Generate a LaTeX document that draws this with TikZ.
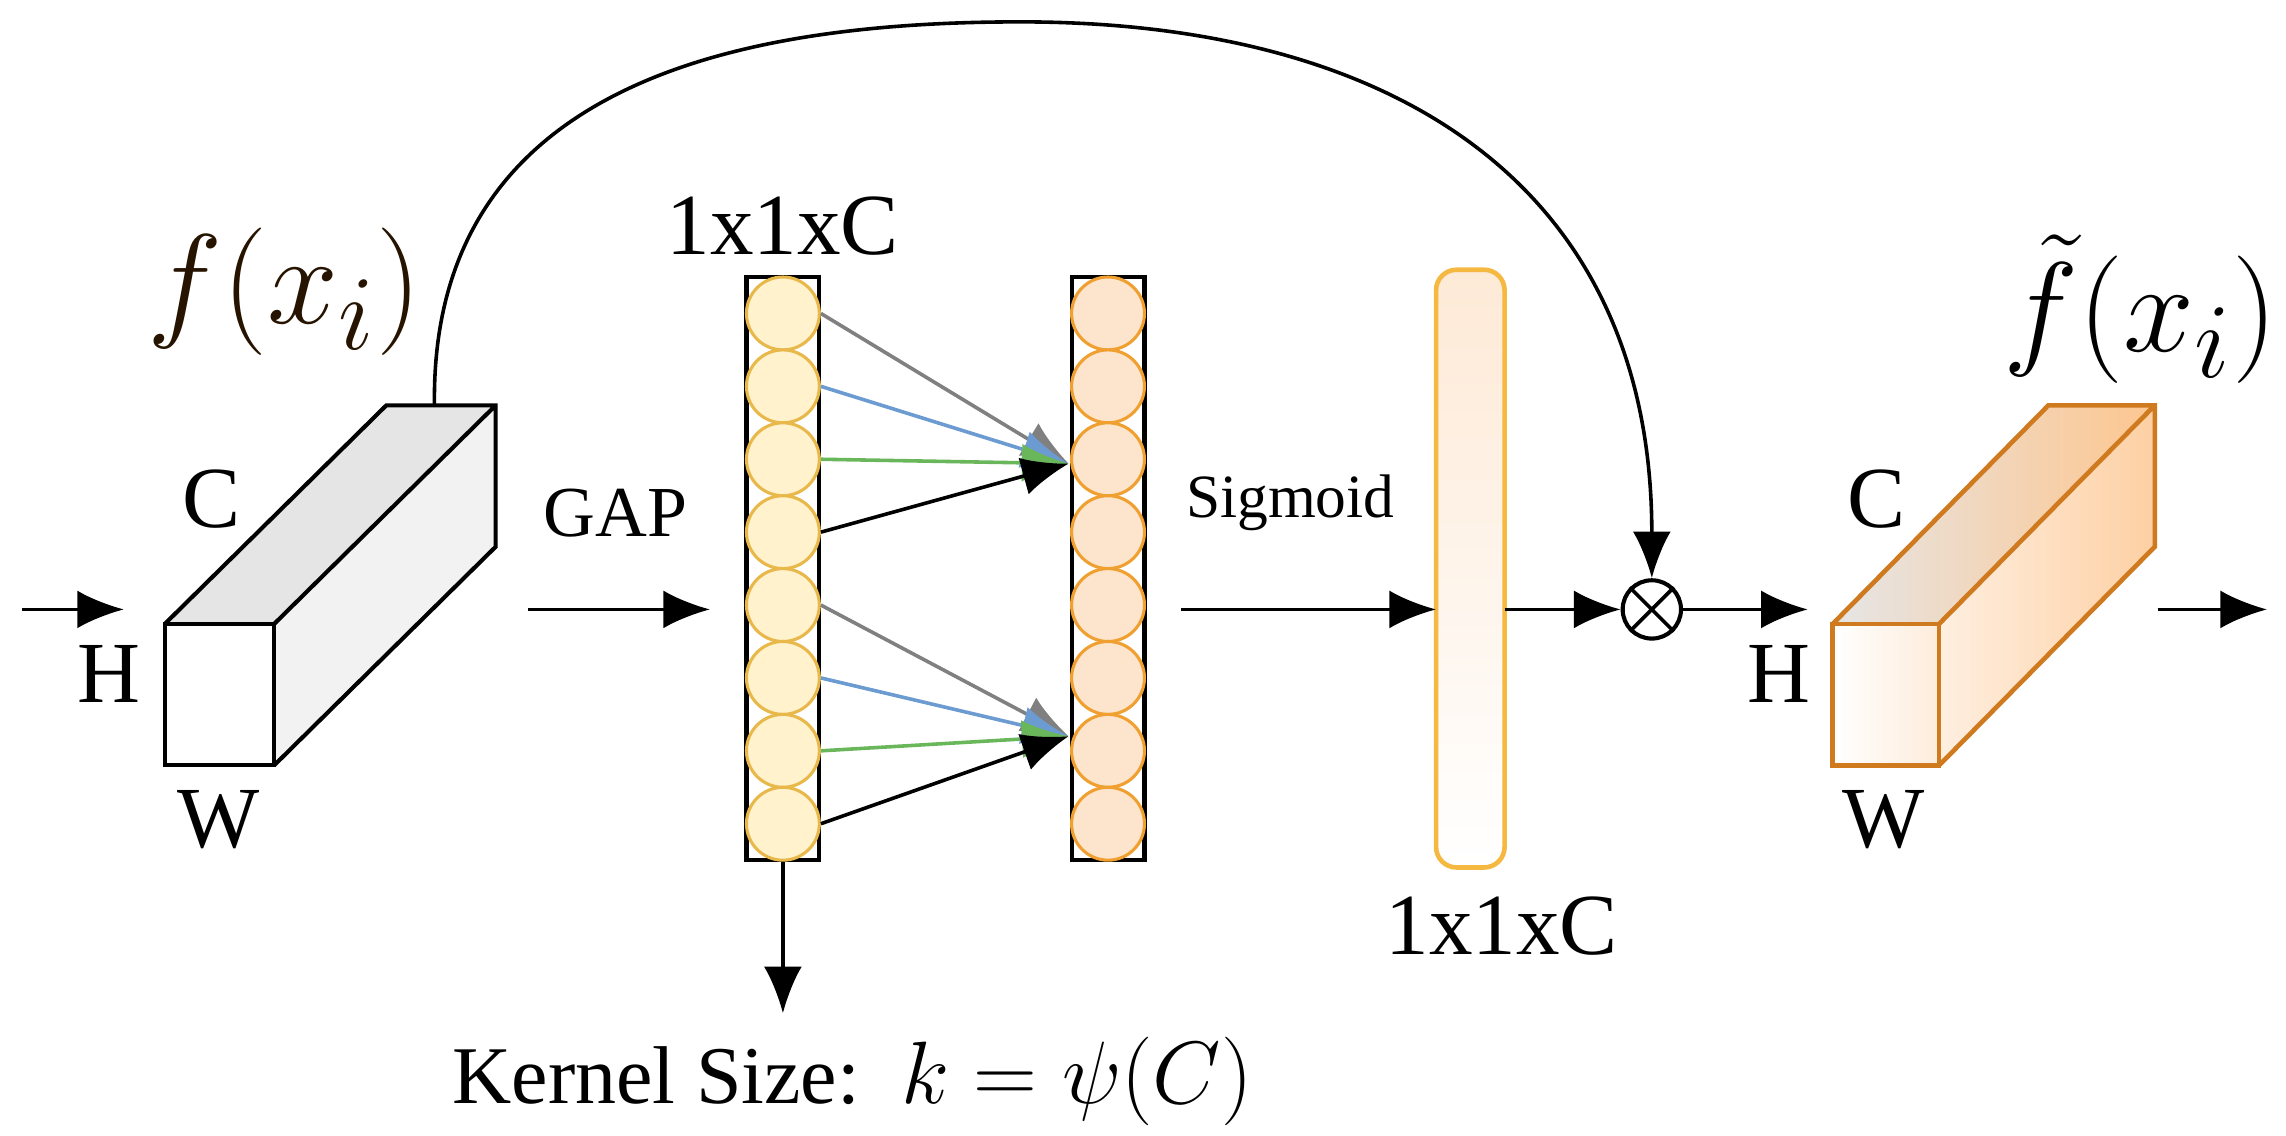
\documentclass[tikz,border=0pt]{standalone}
\usepackage{fontspec}
\setmainfont{Liberation Serif}
\usetikzlibrary{arrows.meta}
\definecolor{c1fill}{HTML}{FFF2CC}
\definecolor{c1draw}{HTML}{E8B84A}
\definecolor{c2fill}{HTML}{FDE4CC}
\definecolor{c2draw}{HTML}{F0A030}
\definecolor{bardraw}{HTML}{F5B942}
\definecolor{cubdraw}{HTML}{D07A20}
\definecolor{lblue}{HTML}{6C9BD2}
\definecolor{lgreen}{HTML}{6AB65A}
\begin{document}
\begin{tikzpicture}[x=1cm,y=-1cm,
  arr/.style={-{Latex[length=3.2mm,width=2.6mm]},line width=0.7pt},
  thin arr/.style={-{Latex[length=3.2mm,width=2.6mm]},line width=0.7pt},
  lbl/.style={font=\fontsize{17}{17}\selectfont,inner sep=0},
  circ1/.style={circle,minimum size=0.5cm,inner sep=0,draw=c1draw,fill=c1fill,line width=0.6pt},
  circ2/.style={circle,minimum size=0.5cm,inner sep=0,draw=c2draw,fill=c2fill,line width=0.6pt}]
\useasboundingbox (0,0) rectangle (15.68,7.79);
% input arrow
\coordinate (in0) at (0.15,4.18); \coordinate (in1) at (0.85,4.18);
\draw[arr] (in0) -- (in1);
% cuboid 1
\fill[gray!20] (1.13,4.28) -- (1.88,4.28) -- (3.40,2.78) -- (2.65,2.78) -- cycle;
\fill[gray!10] (1.88,4.28) -- (3.40,2.78) -- (3.40,3.75) -- (1.88,5.25) -- cycle;
\draw[line width=0.8pt,fill=white] (1.13,4.28) rectangle (1.88,5.25);
\draw[line width=0.8pt] (1.13,4.28) -- (2.65,2.78) -- (3.40,2.78) -- (3.40,3.75) -- (1.88,5.25) (1.88,4.28) -- (3.40,2.78);
\node[lbl] (c1) at (1.45,3.42) {C};
\node[lbl] (h1) at (0.75,4.62) {H};
\node[lbl] (w1) at (1.50,5.62) {W};
\node[font=\fontsize{28}{28}\selectfont,text=black!85!orange] (f1) at (1.95,2.00) {$f(x_i)$};
\coordinate (top1) at (2.98,2.78);
% GAP
\node[font=\fontsize{14}{14}\selectfont] (gap) at (4.22,3.52) {GAP};
\coordinate (g0) at (3.62,4.18); \coordinate (g1) at (4.87,4.18);
% column 1
\node[draw,line width=0.8pt,minimum width=0.5cm,minimum height=4.0cm,inner sep=0] (col1) at (5.37,3.90) {};
\foreach \i in {1,...,8} {\node[circ1] (a\i) at (5.37,{1.65+0.5*\i}) {};}
\draw[arr] (g0) -- (g1);
\node[font=\fontsize{17}{17}\selectfont] (t1) at (5.37,1.55) {1x1xC};
% column 2
\node[draw,line width=0.8pt,minimum width=0.5cm,minimum height=4.0cm,inner sep=0] (col2) at (7.60,3.90) {};
\foreach \i in {1,...,8} {\node[circ2] (b\i) at (7.60,{1.65+0.5*\i}) {};}
\coordinate (p1) at (7.33,3.18);
\coordinate (p2) at (7.33,5.05);
\draw[thin arr,gray] (a1.east) -- (p1);
\draw[thin arr,lblue] (a2.east) -- (p1);
\draw[thin arr,lgreen] (a3.east) -- (p1);
\draw[thin arr,black] (a4.east) -- (p1);
\draw[thin arr,gray] (a5.east) -- (p2);
\draw[thin arr,lblue] (a6.east) -- (p2);
\draw[thin arr,lgreen] (a7.east) -- (p2);
\draw[thin arr,black] (a8.east) -- (p2);
% kernel size
\coordinate (k0) at (5.37,6.95);
\draw[arr] (col1.south) -- (k0);
\node[font=\fontsize{16}{16}\selectfont,anchor=west] (ks) at (2.98,7.42) {Kernel Size:\ \ $k=\psi(C)$};
% sigmoid
\node[font=\fontsize{12}{12}\selectfont] (sig) at (8.85,3.45) {Sigmoid};
\node[draw=bardraw,line width=0.9pt,rounded corners=4pt,minimum width=0.47cm,minimum height=4.1cm,inner sep=0,top color=c2fill!80,bottom color=white] (bar) at (10.085,3.90) {};
\coordinate (s0) at (8.10,4.18); \coordinate (s1) at (9.85,4.18);
\draw[arr] (s0) -- (s1);
\node[font=\fontsize{17}{17}\selectfont] (t2) at (10.30,6.35) {1x1xC};
% otimes
\node[circle,draw,line width=0.8pt,minimum size=0.4cm,inner sep=0] (ot) at (11.33,4.18) {};
\draw[line width=0.7pt] (ot.north west) -- (ot.south east) (ot.north east) -- (ot.south west);
\coordinate (b0) at (10.32,4.18);
\draw[arr] (b0) -- (ot.west);
\draw[arr] (top1) .. controls (2.95,0.6) and (5.0,0.15) .. (7.0,0.15) .. controls (9.6,0.15) and (11.33,1.3) .. (ot.north);
\coordinate (o1) at (12.40,4.18);
\draw[arr] (ot.east) -- (o1);
% cuboid 2
\shade[left color=gray!20,right color=c2fill!70!orange] (12.57,4.28) -- (13.30,4.28) -- (14.78,2.78) -- (14.05,2.78) -- cycle;
\shade[left color=c2fill!60,right color=c2fill!80!orange] (13.30,4.28) -- (14.78,2.78) -- (14.78,3.75) -- (13.30,5.25) -- cycle;
\shade[left color=white,right color=c2fill!70] (12.57,4.28) rectangle (13.30,5.25);
\draw[cubdraw,line width=0.9pt] (12.57,4.28) rectangle (13.30,5.25);
\draw[cubdraw,line width=0.9pt] (12.57,4.28) -- (14.05,2.78) -- (14.78,2.78) -- (14.78,3.75) -- (13.30,5.25) (13.30,4.28) -- (14.78,2.78);
\node[lbl] (c2) at (12.87,3.42) {C};
\node[lbl] (h2) at (12.20,4.62) {H};
\node[lbl] (w2) at (12.92,5.62) {W};
\node[font=\fontsize{28}{28}\selectfont] (f2) at (14.68,2.12) {$\tilde f(x_i)$};
\coordinate (e0) at (14.80,4.18); \coordinate (e1) at (15.55,4.18);
\draw[arr] (e0) -- (e1);
\end{tikzpicture}
\end{document}
